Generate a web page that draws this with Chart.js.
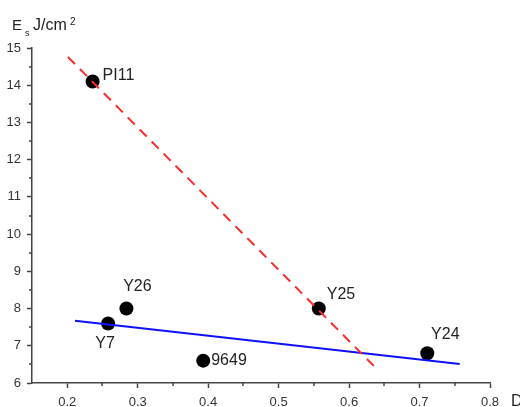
<!doctype html>
<html lang="en">
<head>
    <meta charset="utf-8">
    <title>Es vs D</title>
    <script src="https://cdn.jsdelivr.net/npm/chart.js"></script>
    <style>
        html, body { margin: 0; padding: 0; background: #fff; }
        #wrap { width: 520px; height: 407px; position: relative; }
    </style>
</head>
<body>
    <div id="wrap"><canvas id="esChart"></canvas></div>
    <script>
        // sample points
        const sampleNames = ['PI11', 'Y26', 'Y7', '9649', 'Y25', 'Y24'];
        const sampleD = [0.236, 0.284, 0.258, 0.393, 0.557, 0.711];
        const sampleEs = [14.1, 8.0, 7.6, 6.6, 8.0, 6.8];

        // fit lines (end points)
        const redFitD = [0.201, 0.635];
        const redFitEs = [14.76, 6.46];
        const blueFitD = [0.211, 0.757];
        const blueFitEs = [7.67, 6.51];

        // axis ticks
        const xMajor = [0.2, 0.3, 0.4, 0.5, 0.6, 0.7, 0.8];
        const xMinor = [0.25, 0.35, 0.45, 0.55, 0.65, 0.75];
        const yMajor = [6, 7, 8, 9, 10, 11, 12, 13, 14, 15];
        const yMinor = [6.5, 7.5, 8.5, 9.5, 10.5, 11.5, 12.5, 13.5, 14.5];

        const FONT = 'Arial, "Liberation Sans", sans-serif';
        const AXIS = '#444';

        // label offsets from point centre: [dx, dy, align]
        const labelPos = {
            'PI11': [10, -6, 'left'],
            'Y26': [11, -22, 'center'],
            'Y7': [-3, 20, 'center'],
            '9649': [8, 0, 'left'],
            'Y25': [8, -14, 'left'],
            'Y24': [18, -19, 'center']
        };

        const toXY = (xs, ys) => xs.map((x, i) => ({ x: x, y: ys[i] }));

        const minorTicks = {
            id: 'minorTicks',
            afterDraw(chart) {
                const ctx = chart.ctx;
                const xs = chart.scales.x, ys = chart.scales.y;
                ctx.save();
                ctx.strokeStyle = AXIS;
                ctx.lineWidth = 1.5;
                ctx.beginPath();
                xMinor.forEach(v => {
                    const px = Math.round(xs.getPixelForValue(v));
                    ctx.moveTo(px, xs.top);
                    ctx.lineTo(px, xs.top + 3);
                });
                yMinor.forEach(v => {
                    const py = Math.round(ys.getPixelForValue(v));
                    ctx.moveTo(ys.right, py);
                    ctx.lineTo(ys.right - 3, py);
                });
                ctx.stroke();
                ctx.restore();
            }
        };

        const textLayer = {
            id: 'textLayer',
            afterDraw(chart) {
                const ctx = chart.ctx;
                ctx.save();
                ctx.fillStyle = '#222';
                ctx.textBaseline = 'middle';
                ctx.font = '16px ' + FONT;
                const meta = chart.getDatasetMeta(2);
                meta.data.forEach((pt, i) => {
                    const p = labelPos[sampleNames[i]];
                    ctx.textAlign = p[2];
                    ctx.fillText(sampleNames[i], pt.x + p[0], pt.y + p[1]);
                });

                // axis titles
                ctx.textAlign = 'left';
                ctx.textBaseline = 'alphabetic';
                ctx.font = '15px ' + FONT;
                ctx.fillText('E', 12, 30);
                ctx.font = '9px ' + FONT;
                ctx.fillText('s', 25, 36);
                ctx.font = '16px ' + FONT;
                ctx.fillText('J/cm', 33, 30);
                ctx.font = '10px ' + FONT;
                ctx.fillText('2', 70, 25);
                ctx.font = '16px ' + FONT;
                ctx.fillText('D', 511, 406);
                ctx.restore();
            }
        };

        new Chart(document.getElementById('esChart'), {
            type: 'scatter',
            data: {
                datasets: [
                    {
                        type: 'line',
                        data: toXY(redFitD, redFitEs),
                        borderColor: '#ff2a2a',
                        borderWidth: 2,
                        borderDash: [10, 7],
                        pointRadius: 0,
                        fill: false
                    },
                    {
                        type: 'line',
                        data: toXY(blueFitD, blueFitEs),
                        borderColor: '#1010ff',
                        borderWidth: 2,
                        pointRadius: 0,
                        fill: false
                    },
                    {
                        data: toXY(sampleD, sampleEs),
                        backgroundColor: '#000',
                        borderWidth: 0,
                        pointRadius: 7,
                        pointHoverRadius: 7
                    }
                ]
            },
            options: {
                responsive: true,
                maintainAspectRatio: false,
                animation: false,
                events: [],
                layout: { padding: { top: 48, right: 30, left: 0, bottom: 0 } },
                plugins: { legend: { display: false }, tooltip: { enabled: false } },
                scales: {
                    x: {
                        type: 'linear',
                        min: 0.15,
                        max: 0.8,
                        afterBuildTicks: s => { s.ticks = xMajor.map(v => ({ value: v })); },
                        afterFit: s => { s.height = 24; },
                        border: { display: true, color: AXIS, width: 1.5 },
                        grid: { drawOnChartArea: false, drawTicks: true, tickLength: 5, tickColor: AXIS, tickWidth: 1.5 },
                        ticks: { padding: 7, color: '#333', font: { family: FONT, size: 13 }, maxRotation: 0,
                            callback: v => v.toFixed(1) }
                    },
                    y: {
                        type: 'linear',
                        min: 6,
                        max: 15,
                        afterBuildTicks: s => { s.ticks = yMajor.map(v => ({ value: v })); },
                        afterFit: s => { s.width = 32; },
                        border: { display: true, color: AXIS, width: 1.5 },
                        grid: { drawOnChartArea: false, drawTicks: true, tickLength: 5, tickColor: AXIS, tickWidth: 1.5 },
                        ticks: { padding: 6, color: '#333', font: { family: FONT, size: 13 } }
                    }
                }
            },
            plugins: [minorTicks, textLayer]
        });
    </script>
</body>
</html>
